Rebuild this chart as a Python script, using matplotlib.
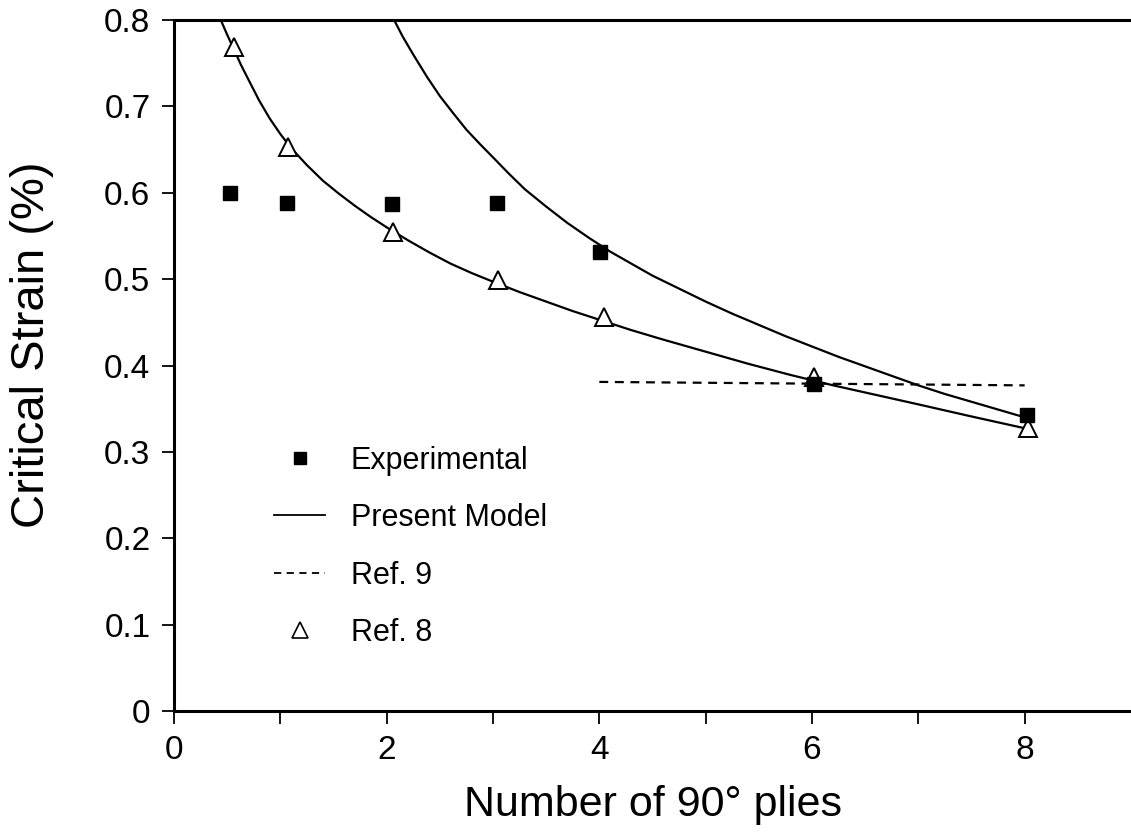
import numpy as np
import matplotlib.pyplot as plt
from matplotlib.lines import Line2D

plt.rcParams['font.family'] = ['Liberation Sans', 'DejaVu Sans']

# Experimental points
exp_x = [0.53, 1.06, 2.05, 3.04, 4.01, 6.02, 8.02]
exp_y = [0.600, 0.588, 0.587, 0.588, 0.531, 0.379, 0.343]

# Ref. 8 points
ref8_x = [0.56, 1.07, 2.06, 3.05, 4.04, 6.02, 8.03]
ref8_y = [0.769, 0.653, 0.554, 0.499, 0.456, 0.387, 0.328]

# Ref. 9 (dashed)
ref9_x = [4.0, 8.0]
ref9_y = [0.381, 0.377]

# present model, upper curve
model_a_x = [2.07, 2.15, 2.25, 2.38, 2.50, 2.62, 2.75, 2.88, 3.00, 3.15, 3.30,
             3.50, 3.70, 3.90, 4.10, 4.30, 4.50, 4.75, 5.00, 5.25, 5.50, 5.75,
             6.00, 6.25, 6.50, 6.75, 7.00, 7.25, 7.50, 7.75, 8.00]
model_a_y = [0.800, 0.781, 0.760, 0.734, 0.712, 0.693, 0.673, 0.656, 0.641, 0.622, 0.604,
             0.584, 0.565, 0.548, 0.532, 0.518, 0.504, 0.489, 0.474, 0.460, 0.447, 0.434,
             0.422, 0.410, 0.399, 0.388, 0.377, 0.367, 0.358, 0.349, 0.340]

# present model, lower curve
model_b_x = [0.44, 0.50, 0.56, 0.63, 0.70, 0.80, 0.90, 1.00, 1.10, 1.25, 1.40,
             1.55, 1.70, 1.85, 2.00, 2.20, 2.40, 2.60, 2.80, 3.00, 3.25, 3.50,
             3.75, 4.00, 4.30, 4.60, 5.00, 5.40, 5.80, 6.20, 6.60, 7.00, 7.50, 8.05]
model_b_y = [0.800, 0.783, 0.767, 0.748, 0.731, 0.707, 0.686, 0.668, 0.652, 0.632, 0.614,
             0.599, 0.585, 0.572, 0.560, 0.545, 0.531, 0.518, 0.507, 0.497, 0.485, 0.474,
             0.463, 0.453, 0.441, 0.430, 0.416, 0.402, 0.389, 0.377, 0.366, 0.355, 0.341, 0.326]

fig = plt.figure(figsize=(11.31, 8.34), dpi=100)
ax = fig.add_axes([174/1131, 1 - 711/834, 1 - 174/1131, (711 - 20)/834])

ax.plot(model_a_x, model_a_y, color='black', lw=1.6)
ax.plot(model_b_x, model_b_y, color='black', lw=1.6)
ax.plot(ref9_x, ref9_y, color='black', lw=1.6, ls=(0, (4, 3)))
ax.plot(ref8_x, ref8_y, ls='none', marker='^', ms=13, mfc='white', mec='black', mew=1.4)
ax.plot(exp_x, exp_y, ls='none', marker='s', ms=9.5, color='black')

ax.set_xlim(0, 9)
ax.set_ylim(0, 0.8)
ax.set_xticks(np.arange(0, 9, 1))
ax.set_xticklabels(['0', '', '2', '', '4', '', '6', '', '8'], fontsize=24)
ax.set_yticks(np.arange(0, 0.81, 0.1))
ax.set_yticklabels(['0', '0.1', '0.2', '0.3', '0.4', '0.5', '0.6', '0.7', '0.8'], fontsize=24)
ax.tick_params(direction='out', length=9, width=1.3, pad=8)

ax.spines['right'].set_visible(False)
for s in ['left', 'bottom', 'top']:
    ax.spines[s].set_linewidth(2.2)

ax.set_xlabel('Number of 90° plies', fontsize=31, labelpad=14)
ax.set_ylabel('Critical Strain (%)', fontsize=34)
ax.yaxis.set_label_coords(-0.125, 0.53)

handles = [
    Line2D([], [], ls='none', marker='s', ms=9, color='black'),
    Line2D([], [], color='black', lw=1.3),
    Line2D([], [], color='black', lw=1.3, ls=(0, (4, 3))),
    Line2D([], [], ls='none', marker='^', ms=11, mfc='white', mec='black', mew=1.2),
]
labels = ['Experimental', 'Present Model', 'Ref. 9', 'Ref. 8']
ax.legend(handles, labels, loc='upper left', bbox_to_anchor=(0.105, 0.384),
          frameon=False, fontsize=22, handlelength=1.65, handletextpad=0.85,
          labelspacing=0.9, borderpad=0, borderaxespad=0)

fig.savefig('out.png', dpi=100)
